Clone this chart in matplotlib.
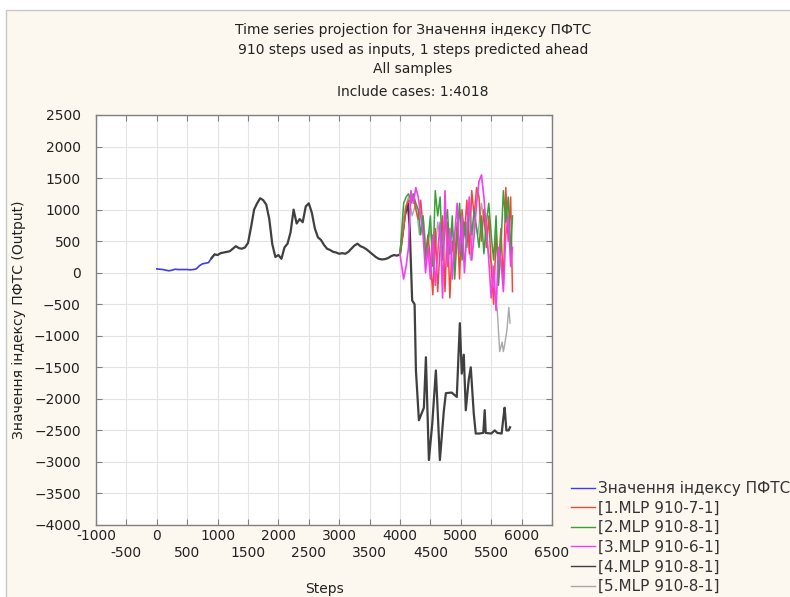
import matplotlib.pyplot as plt
from matplotlib.lines import Line2D
from matplotlib.ticker import FixedLocator, FixedFormatter

plt.rcParams['font.family'] = ['DejaVu Sans']

# index history, one value every 50 steps
hist_steps = list(range(0, 4001, 50))
hist_values = [60, 55, 50, 40, 30, 40, 55, 50, 50, 50,
               50, 45, 50, 60, 110, 140, 150, 160, 230, 290,
               280, 310, 320, 330, 340, 380, 420, 390, 380, 400,
               470, 720, 1000, 1100, 1180, 1150, 1080, 850, 450, 250,
               280, 220, 400, 460, 640, 1000, 780, 850, 800, 1050,
               1100, 950, 700, 560, 520, 440, 380, 360, 330, 320,
               300, 310, 300, 330, 380, 430, 460, 420, 400, 370,
               330, 290, 250, 220, 210, 215, 230, 260, 280, 270,
               290]
input_end = 950     # last step shown as input series
fit_start = 900     # first step of the fitted output

# projections past the included cases
proj_steps = [4000, 4060, 4100, 4140, 4180, 4220, 4260, 4300, 4340, 4380,
              4420, 4460, 4500, 4540, 4580, 4620, 4660, 4700, 4740, 4780,
              4820, 4860, 4900, 4940, 4980, 5020, 5060, 5100, 5140, 5180,
              5220, 5260, 5300, 5340, 5380, 5420, 5460, 5500, 5540, 5580,
              5620, 5660, 5700, 5740, 5780, 5820, 5850]
mlp1_values = [290, 700, 1050, 1150, 1100, 1200, 1000, 850, 1150, 700,
               300, 600, 200, -350, 700, -300, 400, 900, -300, 800,
               -400, 500, 200, 800, -100, 1000, 600, 1150, 300, 1300,
               900, 1350, 1200, 500, 1000, 400, 900, 100, -500, 600,
               100, 700, -200, 1350, 500, 1200, -300]
mlp2_values = [290, 1100, 1200, 1250, 1150, 1250, 1100, 1000, 600, 900,
               200, 500, 900, 100, 1300, 900, 1200, 200, 700, 1000,
               300, 900, -100, 600, 1100, 200, 800, 400, 1100, 600,
               1000, 700, 400, 900, 300, 800, 1100, 600, 200, 900,
               -200, 400, 1300, 800, 1200, 300, 900]
mlp3_values = [290, -100, 100, 400, 1300, 1100, 1350, 1200, 900, 600,
               0, 400, -100, 600, -200, 300, 800, -400, 1300, 100,
               700, -100, 600, 1100, 300, 900, 0, 700, 1200, 200,
               600, 1100, 1450, 1550, 1200, 700, 200, -400, 100, -600,
               400, 200, -300, 600, 900, 100, 400]
mlp4_steps = [4000, 4080, 4130, 4160, 4200, 4240, 4262, 4311, 4393, 4426,
              4475, 4530, 4590, 4656, 4720, 4754, 4850, 4934, 4984, 5016,
              5049, 5082, 5130, 5164, 5213, 5246, 5300, 5370, 5393, 5410,
              5500, 5560, 5600, 5672, 5700, 5721, 5750, 5787, 5810]
mlp4_values = [290, 900, 1100, 700, -440, -500, -1550, -2340, -2140, -1340,
               -2970, -2400, -1550, -2970, -2200, -1910, -1900, -1970, -800, -1600,
               -1300, -2180, -1700, -1500, -2230, -2550, -2550, -2540, -2180, -2540,
               -2550, -2500, -2540, -2550, -2300, -2140, -2500, -2500, -2450]
mlp5_steps = [4000, 4080, 4140, 4200, 4260, 4320, 4380, 4440, 4500, 4560,
              4620, 4680, 4740, 4800, 4860, 4920, 4980, 5040, 5100, 5160,
              5220, 5280, 5340, 5400, 5460, 5520, 5560, 5600, 5640, 5680,
              5700, 5720, 5760, 5790, 5810]
mlp5_values = [290, 1000, 1200, 900, 1100, 600, 900, 300, 700, 100,
               800, 400, 900, 200, 700, 300, 1000, 500, 800, 200,
               900, 600, 1100, 700, 300, 100, -300, -600, -1250, -1100,
               -1250, -1150, -900, -550, -800]

series_labels = ['Значення індексу ПФТС', '[1.MLP 910-7-1]', '[2.MLP 910-8-1]',
                 '[3.MLP 910-6-1]', '[4.MLP 910-8-1]', '[5.MLP 910-8-1]']
series_colors = ['#3c3cf0', '#f04838', '#38a038', '#f040f0', '#404040', '#a8a8a8']

title_lines = ['Time series projection for Значення індексу ПФТС',
               '910 steps used as inputs, 1 steps predicted ahead',
               'All samples',
               'Include cases: 1:4018']

W, H = 790, 597
fig = plt.figure(figsize=(W / 100, H / 100), dpi=100)
fig.patch.set_facecolor('white')
# cream panel with thin border, kept behind the axes
panel = plt.Rectangle((6 / W, -0.01), 1, 1 - 10 / H + 0.01, transform=fig.transFigure,
                      facecolor='#fcf8f0', edgecolor='#c8c8c8', lw=1)
panel.set_zorder(-10)
fig.add_artist(panel)

ax = fig.add_axes([96 / W, (H - 525) / H, (552 - 96) / W, (525 - 115) / H])
ax.set_facecolor('white')

n_in = hist_steps.index(input_end) + 1
i_fit = hist_steps.index(fit_start)
ax.plot(hist_steps[:n_in], hist_values[:n_in], color=series_colors[0], lw=1.2, zorder=3)
ax.plot(hist_steps[i_fit:] + mlp4_steps[1:], hist_values[i_fit:] + mlp4_values[1:],
        color=series_colors[4], lw=1.6, zorder=3)
ax.plot(mlp5_steps, mlp5_values, color=series_colors[5], lw=1.0, zorder=3)
ax.plot(proj_steps, mlp1_values, color=series_colors[1], lw=1.1, zorder=3)
ax.plot(proj_steps, mlp2_values, color=series_colors[2], lw=1.1, zorder=3)
ax.plot(proj_steps, mlp3_values, color=series_colors[3], lw=1.2, zorder=3)

ax.set_xlim(-1000, 6500)
ax.set_ylim(-4000, 2500)
# thousands on the first row, half-thousands on a second row below
major_x = list(range(-1000, 6001, 1000))
minor_x = list(range(-500, 6501, 1000))
ax.xaxis.set_major_locator(FixedLocator(major_x))
ax.xaxis.set_major_formatter(FixedFormatter([str(v) for v in major_x]))
ax.xaxis.set_minor_locator(FixedLocator(minor_x))
ax.xaxis.set_minor_formatter(FixedFormatter([str(v) for v in minor_x]))
ax.set_yticks(range(-4000, 2501, 500))
ax.grid(True, which='both', color='#e4e4e4', lw=0.8)
ax.set_axisbelow(True)
ax.tick_params(which='both', direction='in', top=True, right=True, length=4, width=0.8,
               color='#808080', labelsize=10, labelcolor='#222222', pad=3)
ax.tick_params(axis='x', which='minor', pad=15)
ax.tick_params(axis='y', pad=11)
for sp in ax.spines.values():
    sp.set_color('#808080')
    sp.set_linewidth(1.0)

ax.set_xlabel('Steps', fontsize=10, color='#222222', labelpad=16)
ax.set_ylabel('Значення індексу ПФТС (Output)', fontsize=10, color='#222222', labelpad=6)

for txt, y in zip(title_lines, [30, 50, 69, 92]):
    fig.text(413 / W, 1 - y / H, txt, ha='center', va='center', fontsize=10, color='#222222')

handles = [Line2D([], [], color=c, lw=1.0) for c in series_colors]
fig.legend(handles, series_labels, loc='upper left', bbox_to_anchor=(571 / W, 1 - 481 / H),
           frameon=False, fontsize=11, handlelength=1.6, handletextpad=0.15,
           labelspacing=0.3, borderpad=0, borderaxespad=0, labelcolor='#333333')

fig.savefig('out.png', dpi=100, facecolor=fig.get_facecolor())
